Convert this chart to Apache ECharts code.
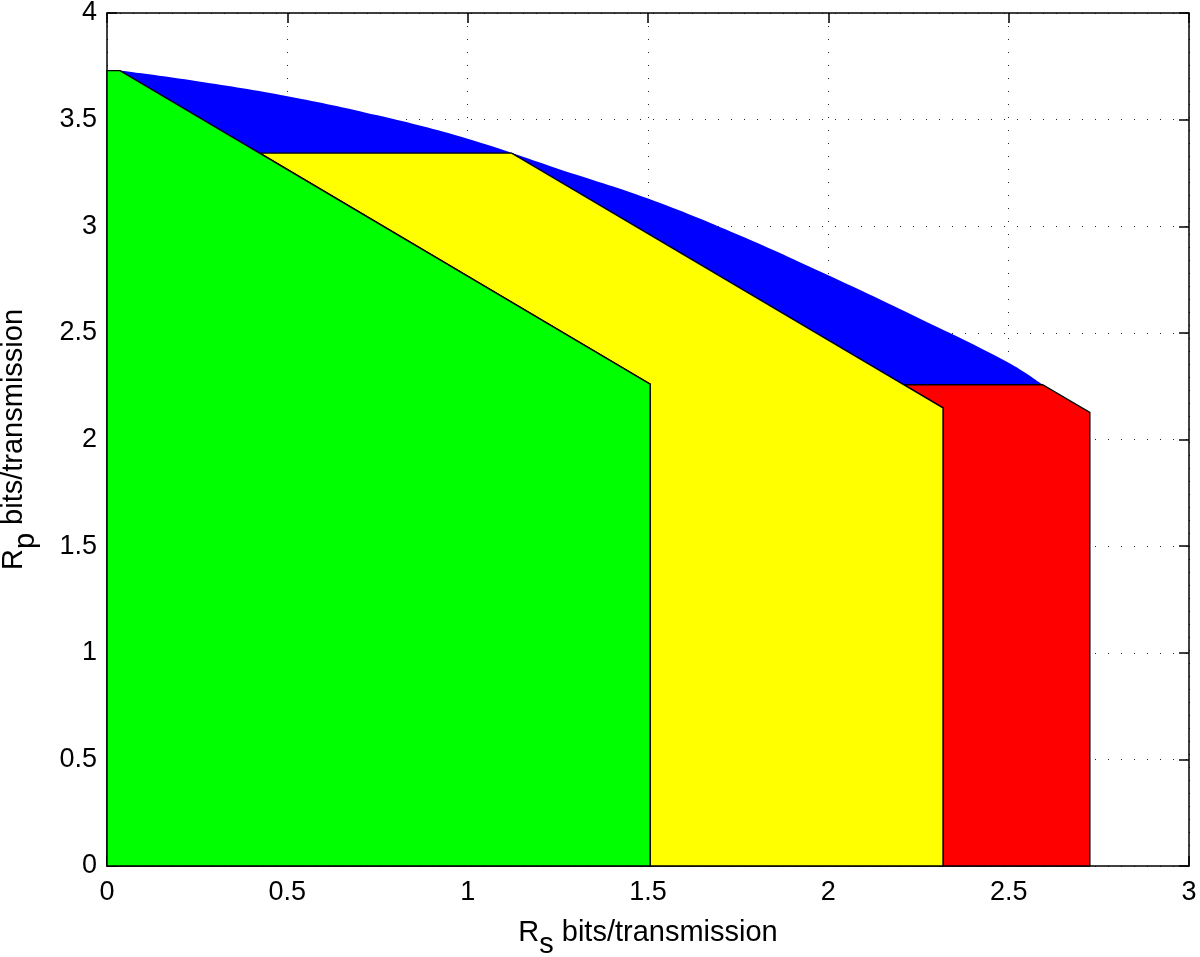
<!DOCTYPE html>
<html>
<head>
<meta charset="utf-8">
<script src="https://cdn.jsdelivr.net/npm/echarts@6/dist/echarts.min.js"></script>
<style>
html,body{margin:0;padding:0;background:#fff;}
#chart{width:1200px;height:957px;}
</style>
</head>
<body>
<div id="chart"></div>
<script>
// Axis ticks
const xTicks = [0, 0.5, 1, 1.5, 2, 2.5, 3];
const yTicks = [0, 0.5, 1, 1.5, 2, 2.5, 3, 3.5, 4];

// Outer (blue) boundary curve [Rs, Rp]
const outerCurve = [
  [0.036, 3.73], [0.25, 3.68], [0.5, 3.61], [0.75, 3.52], [1.0, 3.41],
  [1.25, 3.27], [1.5, 3.13], [1.75, 2.96], [2.0, 2.77],
  [2.25, 2.57], [2.5, 2.36], [2.594, 2.257]
];

// Red region vertices
const redRegion = [
  [2.318, 0], [2.318, 2.148], [2.209, 2.257], [2.594, 2.257], [2.725, 2.127], [2.725, 0]
];
// Yellow region vertices
const yellowRegion = [
  [1.506, 0], [1.506, 2.26], [0.424, 3.343], [1.122, 3.343], [2.318, 2.148], [2.318, 0]
];
// Green region vertices
const greenRegion = [
  [0, 0], [0, 3.73], [0.036, 3.73], [1.506, 2.26], [1.506, 0]
];

function polySeries(name, pts, color, z) {
  return {
    type: 'custom',
    name: name,
    data: pts,
    encode: { x: 0, y: 1 },
    z: z,
    silent: true,
    renderItem: function (params, api) {
      if (params.dataIndex !== 0) return null;
      const points = pts.map(function (p) { return api.coord(p); });
      return {
        type: 'polygon',
        shape: { points: points },
        style: { fill: color, stroke: '#000', lineWidth: 1.4 }
      };
    }
  };
}

const chart = echarts.init(document.getElementById('chart'), null, { renderer: 'canvas' });
const FONT = '"Liberation Sans", Arial, Helvetica, sans-serif';

function boxAxis(extra) {
  return Object.assign({
    type: 'value',
    axisLine: { show: true, onZero: false, lineStyle: { color: '#000', width: 1.5 } },
    axisTick: { show: true, inside: true, length: 10, lineStyle: { color: '#000', width: 1.5 } },
    axisLabel: { show: false },
    splitLine: { show: false }
  }, extra);
}

const option = {
  backgroundColor: '#fff',
  animation: false,
  grid: { left: 107, top: 13, right: 11, bottom: 91, containLabel: false, outerBoundsMode: 'none' },
  xAxis: [
    boxAxis({
      min: 0, max: 3, interval: 0.5, position: 'bottom',
      axisLabel: {
        show: true, color: '#000', fontSize: 27, fontFamily: FONT, margin: 13,
        formatter: function (v) { return xTicks.indexOf(v) >= 0 ? String(v) : ''; }
      },
      splitLine: { show: true, lineStyle: { color: '#222', width: 1, type: [1, 12] } },
      name: '{a|R}{s|s}{a| bits/transmission}',
      nameLocation: 'middle', nameGap: 52,
      nameTextStyle: {
        fontFamily: FONT, color: '#000',
        rich: {
          a: { fontSize: 29, fontFamily: FONT, color: '#000', verticalAlign: 'top', lineHeight: 32 },
          s: { fontSize: 29, fontFamily: FONT, color: '#000', verticalAlign: 'top', lineHeight: 32, padding: [12, 0, 0, 0] }
        }
      }
    }),
    boxAxis({ min: 0, max: 3, interval: 0.5, position: 'top' })
  ],
  yAxis: [
    boxAxis({
      min: 0, max: 4, interval: 0.5, position: 'left',
      axisLabel: {
        show: true, color: '#000', fontSize: 27, fontFamily: FONT, margin: 10,
        formatter: function (v) { return yTicks.indexOf(v) >= 0 ? String(v) : ''; }
      },
      splitLine: { show: true, lineStyle: { color: '#222', width: 1, type: [1, 12] } },
      name: '{a|R}{s|p}{a| bits/transmission}',
      nameLocation: 'middle', nameGap: 76, nameRotate: 90,
      nameTextStyle: {
        fontFamily: FONT, color: '#000',
        rich: {
          a: { fontSize: 29, fontFamily: FONT, color: '#000', verticalAlign: 'top', lineHeight: 32 },
          s: { fontSize: 29, fontFamily: FONT, color: '#000', verticalAlign: 'top', lineHeight: 32, padding: [12, 0, 0, 0] }
        }
      }
    }),
    boxAxis({ min: 0, max: 4, interval: 0.5, position: 'right' })
  ],
  series: [
    {
      type: 'line',
      name: 'blue',
      data: outerCurve,
      smooth: 0.4,
      showSymbol: false,
      silent: true,
      z: 2,
      lineStyle: { width: 0, color: '#0000ff' },
      areaStyle: { color: '#0000ff', opacity: 1 }
    },
    polySeries('red', redRegion, '#ff0000', 3),
    polySeries('yellow', yellowRegion, '#ffff00', 4),
    polySeries('green', greenRegion, '#00ff00', 5)
  ]
};
chart.setOption(option);
</script>
</body>
</html>
